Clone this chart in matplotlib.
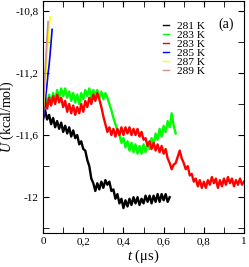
import numpy as np
import matplotlib
matplotlib.use('Agg')
from matplotlib import pyplot as plt

plt.rcParams['font.family'] = 'Liberation Serif'
plt.rcParams['mathtext.fontset'] = 'custom'
plt.rcParams['mathtext.rm'] = 'Liberation Serif'
plt.rcParams['mathtext.it'] = 'Liberation Serif:italic'

# energy traces, U in kcal/mol, sampled every 0.01 us
u_281 = [-11.50, -11.44, -11.50, -11.47, -11.53, -11.49, -11.55, -11.51, -11.56, -11.52,
         -11.58, -11.54, -11.59, -11.55, -11.61, -11.57, -11.62, -11.60, -11.66, -11.64,
         -11.69, -11.70, -11.76, -11.80, -11.88, -11.91, -11.96, -11.91, -11.95, -11.90,
         -11.94, -11.89, -11.92, -11.90, -11.96, -11.95, -12.01, -11.98, -12.04, -12.01,
         -12.07, -12.02, -12.06, -12.01, -12.05, -12.00, -12.04, -12.00, -12.05, -12.01,
         -12.04, -11.99, -12.03, -11.99, -12.04, -11.99, -12.03, -11.98, -12.03, -11.98,
         -12.02, -11.98, -12.03, -12.00]
u_283a = [-11.45, -11.36, -11.40, -11.34, -11.39, -11.33, -11.38, -11.31, -11.36, -11.30,
          -11.35, -11.30, -11.36, -11.32, -11.38, -11.33, -11.39, -11.34, -11.40, -11.33,
          -11.37, -11.31, -11.35, -11.30, -11.36, -11.31, -11.35, -11.31, -11.36, -11.32,
          -11.37, -11.33, -11.36, -11.40, -11.44, -11.49, -11.53, -11.57, -11.60, -11.65,
          -11.62, -11.68, -11.64, -11.70, -11.65, -11.71, -11.66, -11.72, -11.67, -11.72,
          -11.66, -11.71, -11.65, -11.69, -11.62, -11.66, -11.59, -11.63, -11.56, -11.61,
          -11.54, -11.58, -11.51, -11.55, -11.46, -11.54, -11.59]
u_283b = [-11.48, -11.38, -11.43, -11.36, -11.41, -11.35, -11.40, -11.34, -11.39, -11.36,
          -11.42, -11.38, -11.45, -11.40, -11.46, -11.41, -11.47, -11.42, -11.46, -11.40,
          -11.45, -11.38, -11.42, -11.36, -11.40, -11.34, -11.38, -11.33, -11.37, -11.42,
          -11.48, -11.53, -11.58, -11.55, -11.60, -11.56, -11.61, -11.56, -11.60, -11.55,
          -11.60, -11.55, -11.59, -11.55, -11.60, -11.56, -11.60, -11.56, -11.61, -11.58,
          -11.63, -11.62, -11.67, -11.64, -11.69, -11.65, -11.70, -11.66, -11.71, -11.67,
          -11.72, -11.69, -11.75, -11.78, -11.82, -11.79, -11.78, -11.74, -11.70, -11.75,
          -11.78, -11.82, -11.80, -11.86, -11.85, -11.90, -11.88, -11.93, -11.89, -11.94,
          -11.90, -11.94, -11.89, -11.92, -11.87, -11.91, -11.88, -11.94, -11.89, -11.93,
          -11.88, -11.92, -11.87, -11.91, -11.88, -11.93, -11.89, -11.92, -11.88, -11.92,
          -11.90]
# short runs, sampled every 0.005 us
u_285 = [-11.50, -11.45, -11.40, -11.33, -11.27, -11.20, -11.15, -11.08, -11.00, -10.92]
u_287 = [-11.48, -11.38, -11.28, -11.18, -11.08, -10.99, -10.91, -10.84]
u_289 = [-11.45, -11.32, -11.20, -11.08, -10.97, -10.87]

labels = ['281 K', '283 K', '283 K', '285 K', '287 K', '289 K']
colors = ['black', '#00ff00', 'red', 'blue', 'yellow', '#c89090']

def times(vals, step):
    return np.arange(len(vals)) * step

fig = plt.figure(figsize=(2.49, 2.67), dpi=100)
ax = fig.add_axes([0.173, 0.127, 0.807, 0.870])

ax.plot(times(u_281, 0.01), u_281, c=colors[0], lw=1.7, label=labels[0])
ax.plot(times(u_283a, 0.01), u_283a, c=colors[1], lw=1.7, label=labels[1])
ax.plot(times(u_283b, 0.01), u_283b, c=colors[2], lw=1.7, label=labels[2])
ax.plot(times(u_285, 0.005), u_285, c=colors[3], lw=1.2, label=labels[3])
ax.plot(times(u_287, 0.005), u_287, c=colors[4], lw=1.2, label=labels[4])
ax.plot(times(u_289, 0.005), u_289, c=colors[5], lw=1.2, label=labels[5])

ax.set_xlim(0, 1)
ax.set_ylim(-12.231, -10.736)
ax.set_xticks([0, 0.2, 0.4, 0.6, 0.8, 1.0])
ax.set_xticklabels(['0', '0,2', '0,4', '0,6', '0,8', '1'])
ax.set_xticks(np.arange(0.1, 1.0, 0.2), minor=True)
ax.set_yticks([-12.0, -11.6, -11.2, -10.8])
ax.set_yticklabels(['-12', '-11,6', '-11,2', '-10,8'])
ax.set_yticks([-12.2, -11.8, -11.4, -11.0], minor=True)
ax.tick_params(which='both', direction='in', top=True, right=True, labelsize=8, pad=3)
ax.tick_params(which='major', length=4.5)
ax.tick_params(which='minor', length=4.5)

ax.set_xlabel('$t$ (μs)', fontsize=10.5, labelpad=1)
ax.set_ylabel('$U$ (kcal/mol)', fontsize=10)
ax.yaxis.set_label_coords(-0.135, 0.5)

leg = ax.legend(loc='upper left', bbox_to_anchor=(0.597, 0.915), frameon=False,
                fontsize=8.2, handlelength=0.5, handletextpad=0.7, labelspacing=-0.08,
                borderpad=0, borderaxespad=0)
for h in leg.get_lines():
    h.set_linewidth(1.0)

ax.text(0.87, 0.883, '(a)', transform=ax.transAxes, fontsize=10)

fig.savefig('out.png', dpi=100)
